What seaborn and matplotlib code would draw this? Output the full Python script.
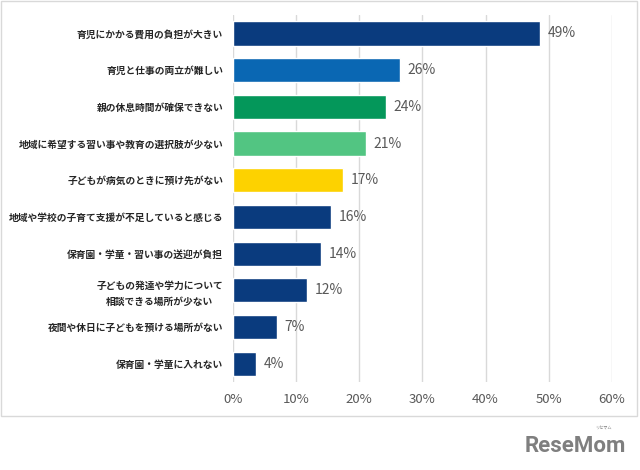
import numpy as np
import pandas as pd
import seaborn as sns
from matplotlib import pyplot as plt
from matplotlib.patches import Rectangle

categories = [
    "育児にかかる費用の負担が大きい",
    "育児と仕事の両立が難しい",
    "親の休息時間が確保できない",
    "地域に希望する習い事や教育の選択肢が少ない",
    "子どもが病気のときに預け先がない",
    "地域や学校の子育て支援が不足していると感じる",
    "保育園・学童・習い事の送迎が負担",
    "子どもの発達や学力について\n相談できる場所が少ない",
    "夜間や休日に子どもを預ける場所がない",
    "保育園・学童に入れない",
]
values = [48.6, 26.4, 24.2, 21.1, 17.4, 15.5, 14.0, 11.7, 7.0, 3.7]
value_labels = ["49%", "26%", "24%", "21%", "17%", "16%", "14%", "12%", "7%", "4%"]
bar_colors = ["#0A3B7E", "#0A67B3", "#04975A", "#52C582", "#FDD200",
              "#0A3B7E", "#0A3B7E", "#0A3B7E", "#0A3B7E", "#0A3B7E"]
x_ticks = [0, 10, 20, 30, 40, 50, 60]

sns.set_style("white")
plt.rcParams["font.family"] = ["Noto Sans CJK JP", "DejaVu Sans"]

df = pd.DataFrame({"category": categories, "value": values})

fig = plt.figure(figsize=(6.4, 4.7), dpi=100)
ax = fig.add_axes([0.364, 0.187, 0.592, 0.781])

# outer frame like the original Excel chart area
fig.patches.append(Rectangle((0.002, 0.115), 0.994, 0.882, transform=fig.transFigure,
                             fill=False, edgecolor="#D9D9D9", linewidth=1))

sns.barplot(data=df, x="value", y="category", hue="category", palette=bar_colors,
            saturation=1, orient="h", width=0.66, legend=False, ax=ax, zorder=3)

ax.set_xlim(0, 60)
ax.set_xticks(x_ticks)
ax.set_xticklabels([f"{t}%" for t in x_ticks], color="#595959", fontsize=9.5)
ax.xaxis.grid(True, color="#D9D9D9", linewidth=1, zorder=0)
ax.set_axisbelow(True)
for s in ax.spines.values():
    s.set_visible(False)
ax.set_xlabel("")
ax.set_ylabel("")
ax.tick_params(axis="x", length=0, pad=8)
ax.tick_params(axis="y", length=0, pad=7)
for lab in ax.get_yticklabels():
    lab.set_fontsize(7)
    lab.set_fontweight("bold")
    lab.set_color("#262626")
    lab.set_multialignment("center")
    lab.set_linespacing(1.7)

for i, (v, t) in enumerate(zip(values, value_labels)):
    ax.text(v + 1.2, i, t, va="center", ha="left", color="#595959", fontsize=10)

fig.text(0.978, 0.027, "ReseMom", ha="right", va="bottom", color="#7F7F7F",
         fontsize=16, fontweight="bold", family=["Roboto", "DejaVu Sans"])
fig.text(0.955, 0.083, "リセマム", ha="right", va="bottom", color="#7F7F7F", fontsize=3)

fig.savefig("out.png", dpi=100)
